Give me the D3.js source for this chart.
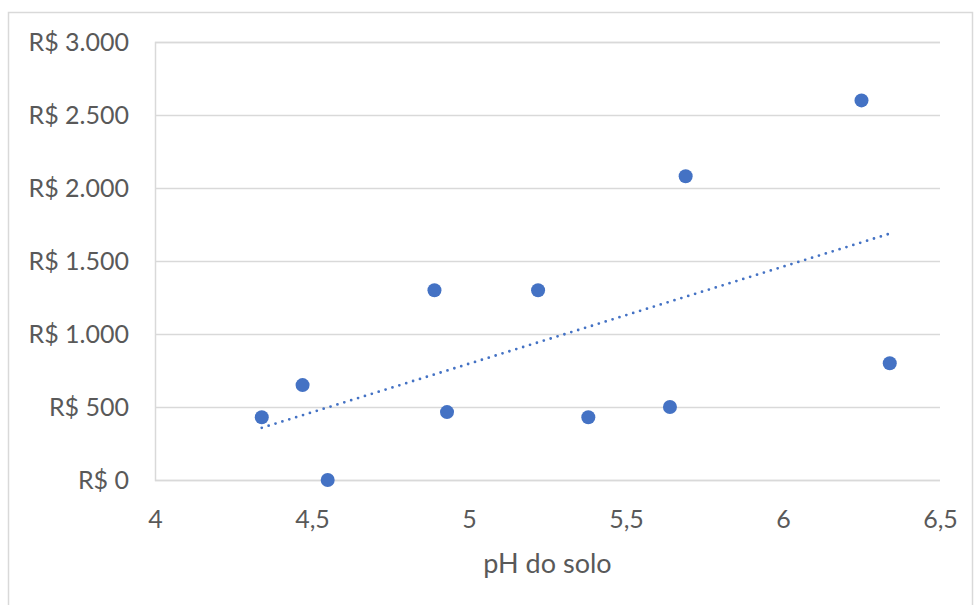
<!DOCTYPE html>
<html>
<head>
<meta charset="utf-8">
<script src="https://cdn.jsdelivr.net/npm/d3@7"></script>
<style>
  html, body { margin: 0; padding: 0; background: #fff; }
  svg { display: block; }
  text { font-family: Lato, "Open Sans", sans-serif; fill: #595959; }
</style>
</head>
<body>
<svg id="chart" width="974" height="605"></svg>
<script>
// Soil pH vs. value (R$)
const phValues   = [4.34, 4.47, 4.55, 4.89, 4.93, 5.22, 5.38, 5.64, 5.69, 6.25, 6.34];
const reaisValues = [430, 650, 0, 1300, 465, 1300, 430, 500, 2080, 2600, 800];
const xTicks = [4, 4.5, 5, 5.5, 6, 6.5];
const yTicks = [0, 500, 1000, 1500, 2000, 2500, 3000];
const xTitle = "pH do solo";

const svg = d3.select("#chart");
const W = 974, H = 605;
const plot = { left: 155, right: 940, top: 42, bottom: 480 };

const x = d3.scaleLinear().domain([4, 6.5]).range([plot.left, plot.right]);
const y = d3.scaleLinear().domain([0, 3000]).range([plot.bottom, plot.top]);

const fmtX = v => String(v).replace(".", ",");
const fmtY = v => "R$ " + d3.format(",")(v).replace(/,/g, ".");

// outer frame
svg.append("rect")
  .attr("x", 8.5).attr("y", 12.5)
  .attr("width", W - 10).attr("height", H)
  .attr("fill", "none").attr("stroke", "#d9d9d9").attr("stroke-width", 1.5);

// horizontal gridlines + y labels
const yAxis = d3.axisLeft(y).tickValues(yTicks).tickSize(-(plot.right - plot.left)).tickFormat(fmtY).tickPadding(26);
const gy = svg.append("g").attr("transform", `translate(${plot.left},0)`).call(yAxis);
gy.select(".domain").attr("stroke", "#d9d9d9").attr("stroke-width", 1.5);
gy.selectAll(".tick line").attr("stroke", "#d9d9d9").attr("stroke-width", 1.5);
gy.selectAll(".tick text").style("font-size", "25px").attr("fill", "#595959").attr("dy", "0.35em");

// x labels
const xAxis = d3.axisBottom(x).tickValues(xTicks).tickSize(0).tickFormat(fmtX).tickPadding(30);
const gx = svg.append("g").attr("transform", `translate(0,${plot.bottom})`).call(xAxis);
gx.select(".domain").remove();
gx.selectAll(".tick text").style("font-size", "25px").attr("fill", "#595959");

// axis title
svg.append("text")
  .attr("x", (plot.left + plot.right) / 2).attr("y", 573)
  .attr("text-anchor", "middle")
  .style("font-size", "27px")
  .text(xTitle);

// linear least-squares trendline
const n = phValues.length;
const mx = d3.mean(phValues), my = d3.mean(reaisValues);
let sxy = 0, sxx = 0;
for (let i = 0; i < n; i++) {
  sxy += (phValues[i] - mx) * (reaisValues[i] - my);
  sxx += (phValues[i] - mx) ** 2;
}
const slope = sxy / sxx, intercept = my - slope * mx;
const [x0, x1] = d3.extent(phValues);
svg.append("line")
  .attr("x1", x(x0)).attr("y1", y(intercept + slope * x0))
  .attr("x2", x(x1)).attr("y2", y(intercept + slope * x1))
  .attr("stroke", "#4472C4").attr("stroke-width", 2.8)
  .attr("stroke-linecap", "round").attr("stroke-dasharray", "0 7.2");

// points
svg.append("g").selectAll("circle")
  .data(phValues.map((p, i) => [p, reaisValues[i]]))
  .join("circle")
  .attr("cx", d => x(d[0])).attr("cy", d => y(d[1]))
  .attr("r", 7).attr("fill", "#4472C4");
</script>
</body>
</html>
